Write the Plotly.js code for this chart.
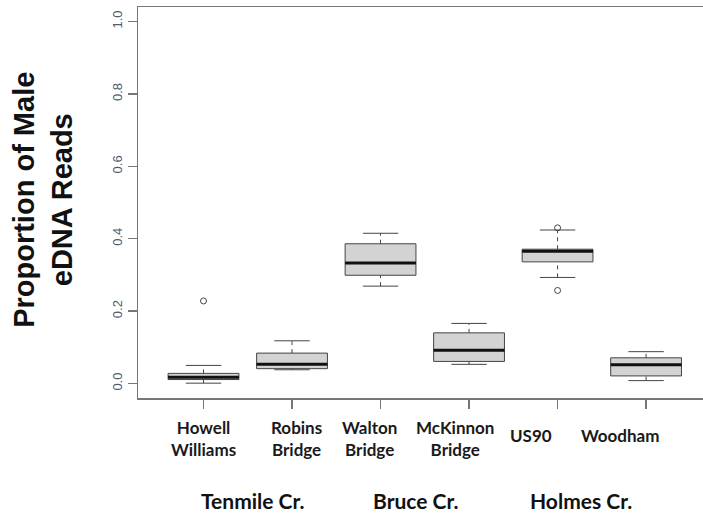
<!DOCTYPE html>
<html>
<head>
<meta charset="utf-8">
<script src="https://cdn.plot.ly/plotly-3.0.1.min.js"></script>
<style>html,body{margin:0;padding:0;background:#fff;}#chart{width:703px;height:517px;}</style>
</head>
<body>
<div id="chart"></div>
<script>
// ---- data ----
const sites = ["Howell<br>Williams", "Robins<br>Bridge", "Walton<br>Bridge", "McKinnon<br>Bridge", "US90", "Woodham"];
const sitePositions = [1, 2, 3, 4, 5, 6];
const lowerWhisker = [0.001, 0.038, 0.269, 0.053, 0.293, 0.008];
const q1 = [0.011, 0.041, 0.299, 0.061, 0.336, 0.021];
const median = [0.017, 0.053, 0.333, 0.092, 0.365, 0.052];
const q3 = [0.028, 0.084, 0.386, 0.140, 0.371, 0.071];
const upperWhisker = [0.050, 0.118, 0.415, 0.166, 0.424, 0.088];
const outlierSite = [1, 5, 5];
const outlierValue = [0.228, 0.430, 0.257];
const creeks = ["Tenmile Cr.", "Bruce Cr.", "Holmes Cr."];
const yTicks = [0, 0.2, 0.4, 0.6, 0.8, 1.0];

// ---- styling ----
const boxHalf = 0.4, stapleHalf = 0.2;
const lineCol = "#444";
const labelOffset = [0.0, 0.05, -0.12, -0.16, -0.30, -0.30];
const labelY = [-0.044, -0.044, -0.044, -0.044, -0.064, -0.064];
const creekPos = [1.55, 3.4, 5.27];

// build whisker, staple, median segments from the arrays
const wx = [], wy = [], sx = [], sy = [], mx = [], my = [];
sitePositions.forEach((p, i) => {
  wx.push(p, p, null, p, p, null);
  wy.push(lowerWhisker[i], q1[i], null, q3[i], upperWhisker[i], null);
  sx.push(p - stapleHalf, p + stapleHalf, null, p - stapleHalf, p + stapleHalf, null);
  sy.push(lowerWhisker[i], lowerWhisker[i], null, upperWhisker[i], upperWhisker[i], null);
  mx.push(p - boxHalf, p + boxHalf, null);
  my.push(median[i], median[i], null);
});

const traces = [
  {type: "scatter", mode: "lines", x: wx, y: wy, line: {color: lineCol, width: 1, dash: "4px,4px"}, hoverinfo: "skip", showlegend: false},
  {type: "scatter", mode: "lines", x: sx, y: sy, line: {color: lineCol, width: 1}, hoverinfo: "skip", showlegend: false},
  {type: "box", x: sitePositions, q1: q1, median: median, q3: q3, lowerfence: q1, upperfence: q3,
   width: 0.8, whiskerwidth: 0, fillcolor: "#d3d3d3", line: {color: lineCol, width: 1}, showlegend: false, boxpoints: false},
  {type: "scatter", mode: "lines", x: mx, y: my, line: {color: "#111", width: 3}, hoverinfo: "skip", showlegend: false},
  {type: "scatter", mode: "markers", x: outlierSite, y: outlierValue,
   marker: {symbol: "circle-open", size: 6, color: lineCol, line: {width: 1}}, showlegend: false}
];

const annotations = [];
sites.forEach((s, i) => {
  annotations.push({xref: "x", yref: "paper", x: sitePositions[i] + labelOffset[i], y: labelY[i], yanchor: "top", xanchor: "center",
    text: s, showarrow: false, align: "center", font: {family: "Lato", size: 17, color: "#1a1a1a", weight: "bold"}});
});
creeks.forEach((c, i) => {
  annotations.push({xref: "x", yref: "paper", x: creekPos[i], y: -0.225, yanchor: "top", xanchor: "center",
    text: c, showarrow: false, font: {family: "Lato", size: 21, color: "#111", weight: "bold"}});
});
annotations.push({xref: "paper", yref: "paper", x: -0.168, y: 0.507, xanchor: "center", yanchor: "middle", textangle: -90,
  text: "Proportion of Male<br>eDNA Reads", showarrow: false,
  font: {family: "Liberation Sans", size: 29, color: "#111", weight: "bold"}});

const layout = {
  width: 703, height: 517,
  margin: {l: 138, r: 0, t: 7, b: 119},
  paper_bgcolor: "#fff", plot_bgcolor: "#fff",
  showlegend: false,
  xaxis: {range: [0.26, 6.643], showgrid: false, zeroline: false, showline: true, mirror: true, linecolor: "#777", linewidth: 1.5,
    tickvals: sitePositions, showticklabels: false, ticks: "outside", ticklen: 9, tickcolor: "#777", tickwidth: 1.5},
  yaxis: {range: [-0.04, 1.04], showgrid: false, zeroline: false, showline: true, linecolor: "#777", linewidth: 1.5,
    tickvals: yTicks, ticktext: yTicks.map(v => v.toFixed(1)), ticks: "outside", ticklen: 9, tickcolor: "#777", tickwidth: 1.5,
    tickangle: -90, tickfont: {family: "Liberation Sans", size: 13, color: "#505a6e"}},
  annotations: annotations
};

Plotly.newPlot("chart", traces, layout, {staticPlot: true});
</script>
</body>
</html>
